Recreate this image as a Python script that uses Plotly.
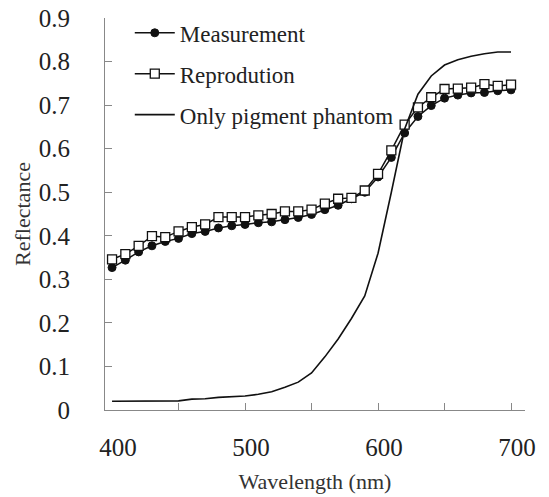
import plotly.graph_objects as go

wavelength = list(range(400, 701, 10))

measurement = [0.327, 0.344, 0.363, 0.377, 0.387, 0.394, 0.405, 0.410, 0.418, 0.423,
               0.426, 0.430, 0.432, 0.437, 0.442, 0.449, 0.460, 0.470, 0.485, 0.500,
               0.535, 0.580, 0.636, 0.674, 0.699, 0.716, 0.723, 0.728, 0.729, 0.733, 0.735]

reproduction = [0.346, 0.358, 0.377, 0.399, 0.397, 0.410, 0.420, 0.426, 0.443, 0.443,
                0.443, 0.447, 0.450, 0.456, 0.456, 0.460, 0.474, 0.485, 0.487, 0.504,
                0.542, 0.596, 0.655, 0.695, 0.718, 0.737, 0.738, 0.740, 0.748, 0.744, 0.747]

phantom = [0.020, 0.020, 0.020, 0.020, 0.020, 0.021, 0.025, 0.026, 0.029, 0.030,
           0.032, 0.036, 0.042, 0.052, 0.064, 0.085, 0.122, 0.163, 0.210, 0.262,
           0.360, 0.500, 0.645, 0.725, 0.767, 0.792, 0.804, 0.812, 0.818, 0.822, 0.822]

x_tick_labels = [400, 500, 600, 700]
x_minor_ticks = [450, 500, 550, 600, 650, 700]
y_ticks = [0, 0.1, 0.2, 0.3, 0.4, 0.5, 0.6, 0.7, 0.8, 0.9]

FONT = "Liberation Serif"
fig = go.Figure()

fig.add_trace(go.Scatter(
    x=wavelength, y=measurement, name="Measurement", mode="lines+markers",
    legendgroup="a",
    line=dict(color="#111", width=1.5),
    marker=dict(symbol="circle", size=8, color="#111", line=dict(color="#111", width=1)),
))
fig.add_trace(go.Scatter(
    x=wavelength, y=reproduction, name="Reprodution", mode="lines+markers",
    legendgroup="b",
    line=dict(color="#111", width=1.5),
    marker=dict(symbol="square", size=9, color="white", line=dict(color="#111", width=1.3)),
))
fig.add_trace(go.Scatter(
    x=wavelength, y=phantom, name="Only pigment phantom", mode="lines",
    legendgroup="c",
    line=dict(color="#111", width=1.6),
))

fig.update_layout(
    width=549, height=497,
    margin=dict(l=105, r=24, t=18, b=87, autoexpand=False),
    paper_bgcolor="white", plot_bgcolor="white",
    font=dict(family=FONT, size=23, color="#222"),
    showlegend=True,
    legend=dict(x=0.059, y=1.017, xanchor="left", yanchor="top",
                bgcolor="rgba(0,0,0,0)", font=dict(family=FONT, size=23, color="#222"),
                tracegroupgap=8, itemwidth=40),
    xaxis=dict(
        range=[394.7, 710.5], automargin=False,
        tickmode="array", tickvals=x_tick_labels,
        ticks="", showgrid=False, zeroline=False,
        showline=True, linecolor="#888", linewidth=1,
        ticklabelstandoff=15, ticklabelshift=6, ticklabeloverflow="allow",
        tickfont=dict(family=FONT, size=25, color="#222"),
        minor=dict(tickmode="array", tickvals=x_minor_ticks, ticks="inside",
                   ticklen=7, tickcolor="#888", tickwidth=1, showgrid=False),
        title=dict(text="Wavelength (nm)", font=dict(family=FONT, size=22, color="#333"), standoff=13),
    ),
    yaxis=dict(
        range=[0, 0.9], automargin=False,
        tickmode="array", tickvals=y_ticks, ticktext=[("0" if v == 0 else f"{v:.1f}") for v in y_ticks],
        ticks="inside", ticklen=7, tickcolor="#888",
        showgrid=False, zeroline=False,
        showline=True, linecolor="#888", linewidth=1,
        ticklabelstandoff=29, ticklabeloverflow="allow",
        tickfont=dict(family=FONT, size=25, color="#222"),
        title=dict(text="Reflectance", font=dict(family=FONT, size=22, color="#333"), standoff=2),
    ),
)

fig.write_html("out.html", config={"displayModeBar": False},
               post_script="document.body.style.margin='0px';")
